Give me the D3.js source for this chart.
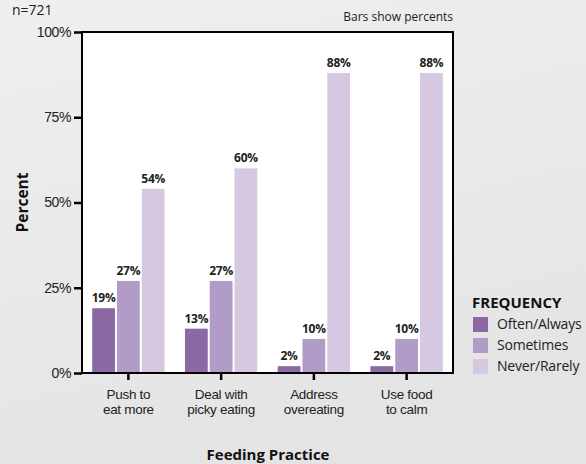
<!DOCTYPE html>
<html>
<head>
<meta charset="utf-8">
<script src="https://cdn.jsdelivr.net/npm/d3@7"></script>
<style>
  body { margin: 0; }
  svg { display: block; font-family: 'Open Sans', sans-serif; }
</style>
</head>
<body>
<svg id="chart" width="586" height="464"></svg>
<script>
let practices = [['Push to', 'eat more'], ['Deal with', 'picky eating'], ['Address', 'overeating'], ['Use food', 'to calm']]
let frequencies = ['Often/Always', 'Sometimes', 'Never/Rarely']
let oftenAlways = [19, 13, 2, 2]
let sometimes = [27, 27, 10, 10]
let neverRarely = [54, 60, 88, 88]
let yTicks = [0, 25, 50, 75, 100]
let colors = ['#8b69a5', '#b19bc7', '#d6c8e0']

let series = [oftenAlways, sometimes, neverRarely]

let svg = d3.select('#chart')

// background
let grad = svg.append('defs').append('linearGradient')
    .attr('id', 'bg').attr('x1', 0).attr('y1', 0).attr('x2', 0.3).attr('y2', 1)
grad.append('stop').attr('offset', '0%').attr('stop-color', '#efefef')
grad.append('stop').attr('offset', '100%').attr('stop-color', '#e4e4e4')
svg.append('rect').attr('width', 586).attr('height', 464).attr('fill', 'url(#bg)')

let plotL = 82, plotR = 453, plotT = 32, plotB = 373

let x = d3.scaleBand().domain(d3.range(practices.length)).range([plotL, plotR]).paddingInner(0.22).paddingOuter(0.11)
let xInner = d3.scaleBand().domain(d3.range(frequencies.length)).range([0, x.bandwidth()]).paddingInner(0.08)
let y = d3.scaleLinear().domain([0, 100]).range([plotB, plotT])

svg.append('rect').attr('x', plotL).attr('y', plotT).attr('width', plotR - plotL).attr('height', plotB - plotT).attr('fill', '#fff')

// bars
practices.forEach((p, i) => {
    let g = svg.append('g').attr('transform', 'translate(' + x(i) + ',0)')
    series.forEach((s, k) => {
        g.append('rect')
            .attr('x', xInner(k))
            .attr('y', y(s[i]))
            .attr('width', xInner.bandwidth())
            .attr('height', y(0) - y(s[i]))
            .attr('fill', colors[k])
        g.append('text')
            .attr('x', xInner(k) + xInner.bandwidth() / 2)
            .attr('y', y(s[i]) - 6)
            .attr('text-anchor', 'middle')
            .attr('font-size', 12)
            .attr('font-weight', 'bold')
            .attr('letter-spacing', -0.3)
            .attr('fill', '#222')
            .text(s[i] + '%')
    })
})

// frame
svg.append('rect').attr('x', plotL).attr('y', plotT).attr('width', plotR - plotL).attr('height', plotB - plotT)
    .attr('fill', 'none').attr('stroke', '#000').attr('stroke-width', 2)

// y axis
let yAxis = svg.append('g').attr('transform', 'translate(' + plotL + ',0)')
    .call(d3.axisLeft(y).tickValues(yTicks).tickFormat(d => d + '%').tickSize(8).tickPadding(3))
yAxis.select('.domain').remove()
yAxis.selectAll('line').attr('stroke', '#000').attr('stroke-width', 2.5)
yAxis.selectAll('text').attr('font-size', 14).attr('fill', '#222').attr('font-family', null).attr('letter-spacing', -0.4)

// x axis
let xAxis = svg.append('g').attr('transform', 'translate(0,' + plotB + ')')
    .call(d3.axisBottom(x).tickFormat('').tickSize(7))
xAxis.select('.domain').remove()
xAxis.selectAll('line').attr('stroke', '#000').attr('stroke-width', 2.5)
xAxis.selectAll('.tick').each(function (d) {
    let t = d3.select(this).append('text')
        .attr('text-anchor', 'middle').attr('font-size', 13.5).attr('fill', '#222').attr('letter-spacing', -0.3)
    practices[d].forEach((line, j) => {
        t.append('tspan').attr('x', 0).attr('y', 26 + j * 14.5).text(line)
    })
})

// titles
svg.append('text').attr('x', 12).attr('y', 15).attr('font-size', 14).attr('fill', '#222').text('n=721')
svg.append('text').attr('x', plotR).attr('y', 21).attr('text-anchor', 'end').attr('font-size', 12).attr('fill', '#222').text('Bars show percents')
svg.append('text').attr('x', 268).attr('y', 460).attr('text-anchor', 'middle').attr('font-size', 15).attr('font-weight', 'bold').attr('fill', '#111').text('Feeding Practice')
svg.append('text').attr('transform', 'translate(28,' + (plotT + plotB) / 2 + ') rotate(-90)')
    .attr('text-anchor', 'middle').attr('font-size', 15.5).attr('font-weight', 'bold').attr('fill', '#111').text('Percent')

// legend
let legend = svg.append('g').attr('transform', 'translate(472,0)')
legend.append('text').attr('x', 0).attr('y', 308).attr('font-size', 15).attr('font-weight', 'bold').attr('fill', '#111').text('FREQUENCY')
frequencies.forEach((f, k) => {
    legend.append('rect').attr('x', 1).attr('y', 317 + k * 21).attr('width', 15).attr('height', 15).attr('fill', colors[k])
    legend.append('text').attr('x', 25).attr('y', 329 + k * 21).attr('font-size', 14).attr('fill', '#222').attr('letter-spacing', -0.2).text(f)
})
</script>
</body>
</html>
